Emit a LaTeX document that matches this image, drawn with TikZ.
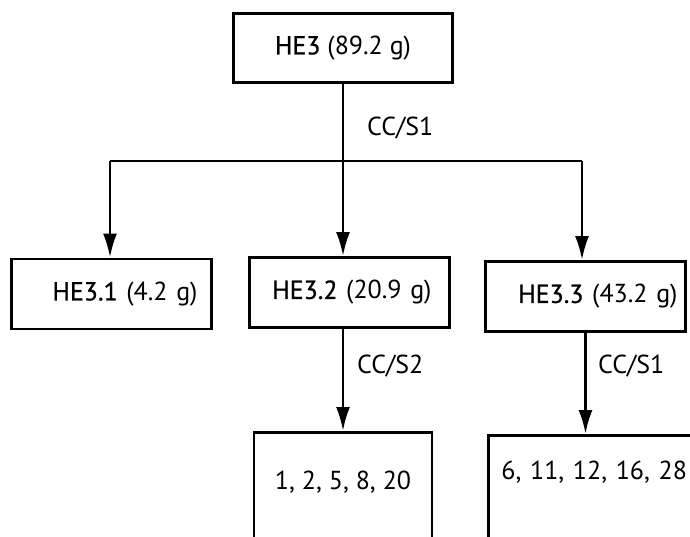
\documentclass[tikz,border=0pt]{standalone}
\usepackage{fontspec}
\setmainfont{PT Sans}
\newfontfamily\semibf[FakeBold=0.8]{PT Sans}
\usepackage{tikz}
\usetikzlibrary{shapes,arrows,arrows.meta}
\usetikzlibrary{positioning}
\tikzstyle{block} = [rectangle, draw, line width=1.4pt, fill=white,
    minimum width=100pt, minimum height=35pt, font=\fontsize{13}{15}\selectfont]
\tikzstyle{result} = [rectangle, draw, line width=1.4pt, anchor=north,
    inner ysep=3pt, text depth=90pt, font=\fontsize{13}{15}\selectfont]
\tikzstyle{label} = [font=\fontsize{13}{15}\selectfont, anchor=west]
\tikzstyle{line} = [draw, line width=1.4pt, -{Latex[length=12pt,width=7pt]}]

\begin{document}
\begin{tikzpicture}[x=0.5pt,y=-0.5pt]
    \path[use as bounding box, clip] (0,0) rectangle (690,536);
    % Place nodes
    \node [block, minimum width=109.5pt, minimum height=34.5pt] (he3) at (343,48) {{\semibf HE3} (89.2 g)};
    \node [block, text width=86pt, align=right] (he31) at (111.5,294) {{\semibf HE3.1} (4.2 g)};
    \node [block, text width=82pt, align=right] (he32) at (349.5,292.5) {{\semibf HE3.2} (20.9 g)};
    \node [block, text width=92pt, align=right] (he33) at (585.5,296.5) {{\semibf HE3.3} (43.2 g)};
    \node [result, minimum width=89pt, text height=25.5pt] (res1) at (343,431) {1, 2, 5, 8, 20};
    \node [result, anchor=north west, text width=100pt, inner xsep=6.5pt, align=left, text height=19pt] (res2) at (487,434) {6, 11, 12, 16, 28};
    \coordinate (lft) at (110,161);
    \coordinate (rgt) at (582,161);
    \node [label] (cc1) at (360,128) {CC/S1};
    \node [label] (cc2) at (350,366) {CC/S2};
    \node [label] (cc3) at (591,366) {CC/S1};
    % Draw edges
    \draw [line width=1.4pt] (lft) -- (rgt);
    \path [line] (he3.south) -- (he3.south |- he32.north);
    \path [line] (lft) -- (lft |- he31.north);
    \path [line] (rgt) -- (rgt |- he33.north);
    \path [line] (res1.north |- he32.south) -- (res1.north);
    \path [line] (he33.south) -- (he33.south |- res2.north);
\end{tikzpicture}
\end{document}
